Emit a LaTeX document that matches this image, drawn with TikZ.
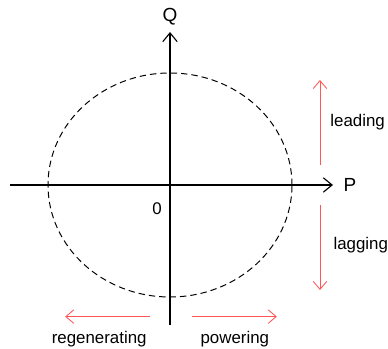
\documentclass[tikz,border=0pt]{standalone}
\usepackage{fontspec}
\setmainfont{Liberation Sans}
\usetikzlibrary{arrows.meta}
\definecolor{arrowred}{RGB}{255,85,85}

\begin{document}
\begin{tikzpicture}[
    axis/.style={-{Straight Barb[length=2.2mm,width=3.6mm]}, line width=0.8pt},
    circ/.style={dashed, dash pattern=on 1.6mm off 1mm, line width=0.7pt},
    redarrow/.style={-{Straight Barb[length=2mm,width=3.4mm]}, arrowred, line width=0.6pt},
    lbl/.style={font=\fontsize{12}{14}\selectfont},
    axlbl/.style={font=\fontsize{13.5}{16}\selectfont}
]
    \useasboundingbox (-4.25,-4.1) rectangle (5.45,4.625);

    % axes
    \coordinate (qlow) at (0,-3.5);
    \coordinate (qhigh) at (0,3.825);
    \coordinate (pleft) at (-4.0,0);
    \coordinate (pright) at (4.075,0);
    \draw[axis] (qlow) -- (qhigh);
    \draw[axis] (pleft) -- (pright);
    \node[axlbl] (qlabel) at (0,4.2) {Q};
    \node[axlbl] (plabel) at (4.5,0) {P};
    \node[lbl] (origin) at (-0.325,-0.6) {0};

    % capability circle
    \draw[circ] (0,0) ellipse (3.05 and 2.8);

    % leading / lagging
    \coordinate (leadlow) at (3.75,0.5);
    \coordinate (leadhigh) at (3.75,2.625);
    \coordinate (laghigh) at (3.75,-0.5);
    \coordinate (laglow) at (3.75,-2.625);
    \draw[redarrow] (leadlow) -- (leadhigh);
    \draw[redarrow] (laghigh) -- (laglow);
    \node[lbl] (leading) at (4.69,1.58) {leading};
    \node[lbl] (lagging) at (4.77,-1.5) {lagging};

    % regenerating / powering
    \coordinate (regstart) at (-0.5,-3.29);
    \coordinate (regend) at (-2.62,-3.29);
    \coordinate (powstart) at (0.55,-3.29);
    \coordinate (powend) at (2.67,-3.29);
    \draw[redarrow] (regstart) -- (regend);
    \draw[redarrow] (powstart) -- (powend);
    \node[lbl] (regen) at (-1.77,-3.85) {regenerating};
    \node[lbl] (powering) at (1.62,-3.85) {powering};
\end{tikzpicture}
\end{document}
